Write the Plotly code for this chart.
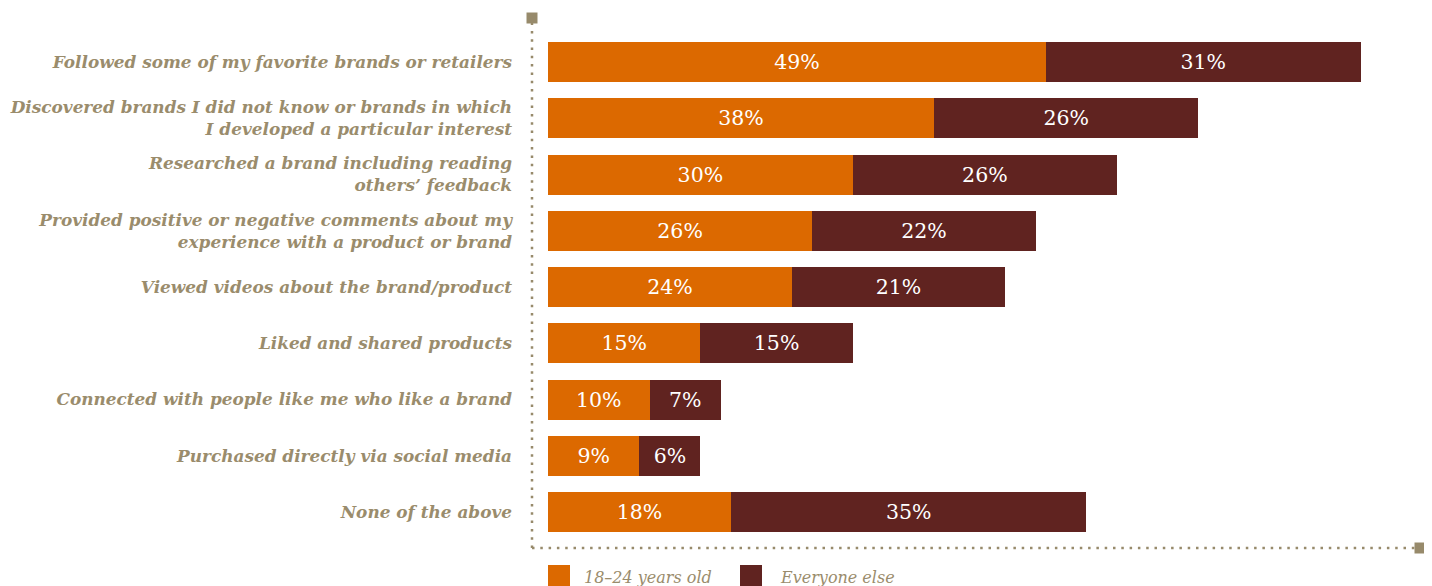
import plotly.graph_objects as go

categories = [
    "Followed some of my favorite brands or retailers",
    "Discovered brands I did not know or brands in which<br>I developed a particular interest",
    "Researched a brand including reading<br>others’ feedback",
    "Provided positive or negative comments about my<br>experience with a product or brand",
    "Viewed videos about the brand/product",
    "Liked and shared products",
    "Connected with people like me who like a brand",
    "Purchased directly via social media",
    "None of the above",
]
young = [49, 38, 30, 26, 24, 15, 10, 9, 18]
everyone = [31, 26, 26, 22, 21, 15, 7, 6, 35]
series_names = ["18–24 years old", "Everyone else"]

ORANGE = "#DC6900"
DARK = "#602320"
TAN = "#9A8C6C"

OFF = 8  # page body margin offset
W, H = 1432, 586
L = 532 - OFF
T = 18 - OFF
R = W - (1420 - OFF)
B = H - (548 - OFF)
PW, PH = W - L - R, H - T - B

def px_x(p):
    return (p - OFF - L) / PW

def px_y(p):
    return (H - B - (p - OFF)) / PH

ypos = list(range(len(categories)))

fig = go.Figure()
for vals, name, col in [(young, series_names[0], ORANGE), (everyone, series_names[1], DARK)]:
    fig.add_trace(go.Bar(
        y=ypos, x=vals, name=name, orientation="h",
        marker=dict(color=col, line=dict(width=0)),
        width=0.711,
        text=[f"{v}%" for v in vals], textposition="inside",
        insidetextanchor="middle",
        textfont=dict(family="DejaVu Serif", size=20.5, color="white"),
        hoverinfo="skip", showlegend=False,
    ))

fig.update_layout(
    barmode="stack",
    width=W, height=H,
    margin=dict(l=L, r=R, t=T, b=B, pad=0, autoexpand=False),
    plot_bgcolor="white", paper_bgcolor="white",
    xaxis=dict(range=[-16 / 10.16, (1420 - 548) / 10.16], showgrid=False, zeroline=False,
               showticklabels=False, showline=False, automargin=False),
    yaxis=dict(range=[(548 - 62) / 56.25, (18 - 62) / 56.25], tickvals=ypos, ticktext=categories,
               showgrid=False, zeroline=False, showline=False, ticks="", automargin=False,
               ticklabelstandoff=19,
               tickfont=dict(family="DejaVu Serif", size=16.9, color=TAN, weight="bold", style="italic")),
)

dot = dict(color="#978A6B", width=2.5, dash="2.5px,5.8px")
fig.add_shape(type="line", xref="paper", yref="paper", x0=0, x1=0, y0=0, y1=1, line=dot, layer="below")
fig.add_shape(type="line", xref="paper", yref="paper", x0=0, x1=1, y0=0, y1=0, line=dot, layer="below")
fig.add_shape(type="rect", xref="paper", yref="paper", xsizemode="pixel", ysizemode="pixel",
              xanchor=0, yanchor=1, x0=-5.5, x1=5.5, y0=-5.5, y1=5.5,
              fillcolor="#978A6B", line=dict(width=0))
fig.add_shape(type="rect", xref="paper", yref="paper", xsizemode="pixel", ysizemode="pixel",
              xanchor=1, yanchor=0, x0=-5.5, x1=5.5, y0=-5.5, y1=5.5,
              fillcolor="#978A6B", line=dict(width=0))

# legend
for sx, tx, name, col in [(548, 582, series_names[0], ORANGE), (740, 778, series_names[1], DARK)]:
    fig.add_shape(type="rect", xref="paper", yref="paper",
                  x0=px_x(sx), x1=px_x(sx + 22), y0=px_y(565), y1=px_y(600),
                  fillcolor=col, line=dict(width=0))
    fig.add_annotation(xref="paper", yref="paper", x=px_x(tx), y=px_y(566),
                       xanchor="left", yanchor="top", showarrow=False, text=name,
                       font=dict(family="DejaVu Serif", size=16, color=TAN, style="italic"))

fig.write_html("out.html")
